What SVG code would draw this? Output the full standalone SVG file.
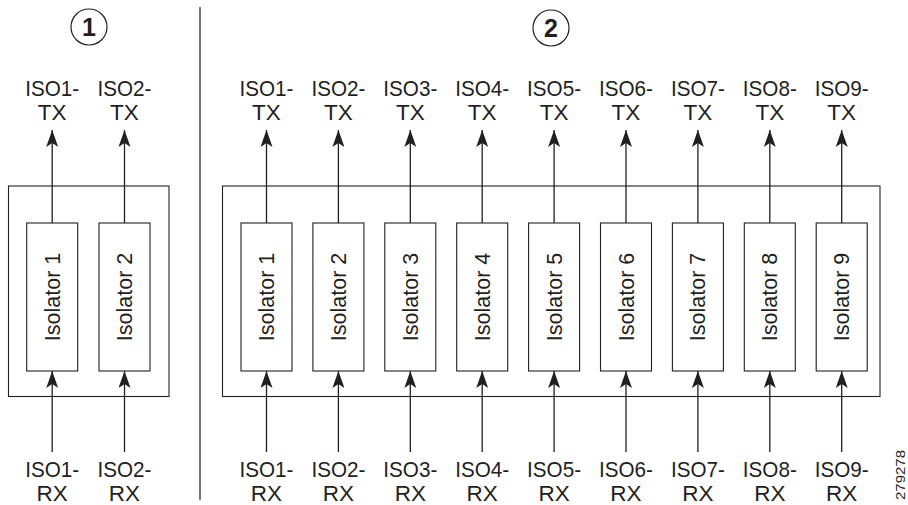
<svg xmlns="http://www.w3.org/2000/svg" width="908" height="505" viewBox="0 0 908 505">
<style>
  .frame{fill:none;stroke:#231f20;stroke-width:1.1}
  .iso{fill:#fff;stroke:#231f20;stroke-width:1.1}
  .wire{stroke:#231f20;stroke-width:1.3;fill:none}
  text{font-family:"Liberation Sans",Arial,sans-serif;fill:#231f20}
  .lbl{font-size:22.5px;text-anchor:middle}
  .rot{font-size:21.5px;text-anchor:middle}
  .num{font-size:25px;font-weight:bold;text-anchor:middle}
  .circ{fill:none;stroke:#231f20;stroke-width:1.2}
</style>
<defs>
  <marker id="up" viewBox="0 0 12 17" refX="6" refY="0" markerWidth="12" markerHeight="17" markerUnits="userSpaceOnUse" orient="0">
    <path d="M6 0 L12 17 L6 13 L0 17 Z" fill="#231f20"/>
  </marker>
</defs>

<g id="callout1"><circle class="circ" cx="89" cy="27" r="18"/><text class="num" x="89" y="36">1</text></g>
<g id="callout2"><circle class="circ" cx="551" cy="28" r="18"/><text class="num" x="551" y="37">2</text></g>
<line id="divider" x1="200" y1="7" x2="200" y2="500" stroke="#231f20" stroke-width="1.2"/>

<g id="panel1-frame"><rect class="frame" x="8.5" y="186" width="160.5" height="210.5"/></g>
<g id="panel2-frame"><rect class="frame" x="222.5" y="186" width="657.5" height="210.5"/></g>

<g id="connectors">
  <line class="wire" marker-end="url(#up)" x1="52.2" y1="223" x2="52.2" y2="130"/>
  <line class="wire" marker-end="url(#up)" x1="124.5" y1="223" x2="124.5" y2="130"/>
  <line class="wire" marker-end="url(#up)" x1="52.2" y1="452" x2="52.2" y2="371"/>
  <line class="wire" marker-end="url(#up)" x1="124.5" y1="452" x2="124.5" y2="371"/>
  <line class="wire" marker-end="url(#up)" x1="266.5" y1="223" x2="266.5" y2="130"/>
  <line class="wire" marker-end="url(#up)" x1="338.4" y1="223" x2="338.4" y2="130"/>
  <line class="wire" marker-end="url(#up)" x1="410.3" y1="223" x2="410.3" y2="130"/>
  <line class="wire" marker-end="url(#up)" x1="482.2" y1="223" x2="482.2" y2="130"/>
  <line class="wire" marker-end="url(#up)" x1="554.1" y1="223" x2="554.1" y2="130"/>
  <line class="wire" marker-end="url(#up)" x1="626" y1="223" x2="626" y2="130"/>
  <line class="wire" marker-end="url(#up)" x1="697.9" y1="223" x2="697.9" y2="130"/>
  <line class="wire" marker-end="url(#up)" x1="769.8" y1="223" x2="769.8" y2="130"/>
  <line class="wire" marker-end="url(#up)" x1="841.7" y1="223" x2="841.7" y2="130"/>
  <line class="wire" marker-end="url(#up)" x1="266.5" y1="452" x2="266.5" y2="371"/>
  <line class="wire" marker-end="url(#up)" x1="338.4" y1="452" x2="338.4" y2="371"/>
  <line class="wire" marker-end="url(#up)" x1="410.3" y1="452" x2="410.3" y2="371"/>
  <line class="wire" marker-end="url(#up)" x1="482.2" y1="452" x2="482.2" y2="371"/>
  <line class="wire" marker-end="url(#up)" x1="554.1" y1="452" x2="554.1" y2="371"/>
  <line class="wire" marker-end="url(#up)" x1="626" y1="452" x2="626" y2="371"/>
  <line class="wire" marker-end="url(#up)" x1="697.9" y1="452" x2="697.9" y2="371"/>
  <line class="wire" marker-end="url(#up)" x1="769.8" y1="452" x2="769.8" y2="371"/>
  <line class="wire" marker-end="url(#up)" x1="841.7" y1="452" x2="841.7" y2="371"/>
</g>

<g id="p1-iso1"><rect class="iso" x="26.7" y="223" width="51" height="148"/><text class="rot" transform="translate(59.7,297) rotate(-90)">Isolator 1</text></g>
<g id="p1-iso2"><rect class="iso" x="99" y="223" width="51" height="148"/><text class="rot" transform="translate(132,297) rotate(-90)">Isolator 2</text></g>

<g id="p2-iso1"><rect class="iso" x="241" y="223" width="51" height="148"/><text class="rot" transform="translate(274,297) rotate(-90)">Isolator 1</text></g>
<g id="p2-iso2"><rect class="iso" x="312.9" y="223" width="51" height="148"/><text class="rot" transform="translate(345.9,297) rotate(-90)">Isolator 2</text></g>
<g id="p2-iso3"><rect class="iso" x="384.8" y="223" width="51" height="148"/><text class="rot" transform="translate(417.8,297) rotate(-90)">Isolator 3</text></g>
<g id="p2-iso4"><rect class="iso" x="456.7" y="223" width="51" height="148"/><text class="rot" transform="translate(489.7,297) rotate(-90)">Isolator 4</text></g>
<g id="p2-iso5"><rect class="iso" x="528.6" y="223" width="51" height="148"/><text class="rot" transform="translate(561.6,297) rotate(-90)">Isolator 5</text></g>
<g id="p2-iso6"><rect class="iso" x="600.5" y="223" width="51" height="148"/><text class="rot" transform="translate(633.5,297) rotate(-90)">Isolator 6</text></g>
<g id="p2-iso7"><rect class="iso" x="672.4" y="223" width="51" height="148"/><text class="rot" transform="translate(705.4,297) rotate(-90)">Isolator 7</text></g>
<g id="p2-iso8"><rect class="iso" x="744.3" y="223" width="51" height="148"/><text class="rot" transform="translate(777.3,297) rotate(-90)">Isolator 8</text></g>
<g id="p2-iso9"><rect class="iso" x="816.2" y="223" width="51" height="148"/><text class="rot" transform="translate(849.2,297) rotate(-90)">Isolator 9</text></g>

<g id="p1-tx1"><text class="lbl" x="52.2" y="96" textLength="54" lengthAdjust="spacingAndGlyphs">ISO1-</text><text class="lbl" x="52.2" y="119.5">TX</text></g>
<g id="p1-tx2"><text class="lbl" x="124.5" y="96" textLength="54" lengthAdjust="spacingAndGlyphs">ISO2-</text><text class="lbl" x="124.5" y="119.5">TX</text></g>
<g id="p1-rx1"><text class="lbl" x="52.2" y="477" textLength="54" lengthAdjust="spacingAndGlyphs">ISO1-</text><text class="lbl" x="52.2" y="500.5">RX</text></g>
<g id="p1-rx2"><text class="lbl" x="124.5" y="477" textLength="54" lengthAdjust="spacingAndGlyphs">ISO2-</text><text class="lbl" x="124.5" y="500.5">RX</text></g>

<g id="p2-tx">
<text class="lbl" x="266.5" y="96" textLength="54" lengthAdjust="spacingAndGlyphs">ISO1-</text><text class="lbl" x="266.5" y="119.5">TX</text>
<text class="lbl" x="338.4" y="96" textLength="54" lengthAdjust="spacingAndGlyphs">ISO2-</text><text class="lbl" x="338.4" y="119.5">TX</text>
<text class="lbl" x="410.3" y="96" textLength="54" lengthAdjust="spacingAndGlyphs">ISO3-</text><text class="lbl" x="410.3" y="119.5">TX</text>
<text class="lbl" x="482.2" y="96" textLength="54" lengthAdjust="spacingAndGlyphs">ISO4-</text><text class="lbl" x="482.2" y="119.5">TX</text>
<text class="lbl" x="554.1" y="96" textLength="54" lengthAdjust="spacingAndGlyphs">ISO5-</text><text class="lbl" x="554.1" y="119.5">TX</text>
<text class="lbl" x="626" y="96" textLength="54" lengthAdjust="spacingAndGlyphs">ISO6-</text><text class="lbl" x="626" y="119.5">TX</text>
<text class="lbl" x="697.9" y="96" textLength="54" lengthAdjust="spacingAndGlyphs">ISO7-</text><text class="lbl" x="697.9" y="119.5">TX</text>
<text class="lbl" x="769.8" y="96" textLength="54" lengthAdjust="spacingAndGlyphs">ISO8-</text><text class="lbl" x="769.8" y="119.5">TX</text>
<text class="lbl" x="841.7" y="96" textLength="54" lengthAdjust="spacingAndGlyphs">ISO9-</text><text class="lbl" x="841.7" y="119.5">TX</text>
</g>
<g id="p2-rx">
<text class="lbl" x="266.5" y="477" textLength="54" lengthAdjust="spacingAndGlyphs">ISO1-</text><text class="lbl" x="266.5" y="500.5">RX</text>
<text class="lbl" x="338.4" y="477" textLength="54" lengthAdjust="spacingAndGlyphs">ISO2-</text><text class="lbl" x="338.4" y="500.5">RX</text>
<text class="lbl" x="410.3" y="477" textLength="54" lengthAdjust="spacingAndGlyphs">ISO3-</text><text class="lbl" x="410.3" y="500.5">RX</text>
<text class="lbl" x="482.2" y="477" textLength="54" lengthAdjust="spacingAndGlyphs">ISO4-</text><text class="lbl" x="482.2" y="500.5">RX</text>
<text class="lbl" x="554.1" y="477" textLength="54" lengthAdjust="spacingAndGlyphs">ISO5-</text><text class="lbl" x="554.1" y="500.5">RX</text>
<text class="lbl" x="626" y="477" textLength="54" lengthAdjust="spacingAndGlyphs">ISO6-</text><text class="lbl" x="626" y="500.5">RX</text>
<text class="lbl" x="697.9" y="477" textLength="54" lengthAdjust="spacingAndGlyphs">ISO7-</text><text class="lbl" x="697.9" y="500.5">RX</text>
<text class="lbl" x="769.8" y="477" textLength="54" lengthAdjust="spacingAndGlyphs">ISO8-</text><text class="lbl" x="769.8" y="500.5">RX</text>
<text class="lbl" x="841.7" y="477" textLength="54" lengthAdjust="spacingAndGlyphs">ISO9-</text><text class="lbl" x="841.7" y="500.5">RX</text>
</g>

<text id="figid" font-size="13" text-anchor="middle" textLength="50" lengthAdjust="spacingAndGlyphs" transform="translate(904.5,475) rotate(-90)">279278</text>
</svg>
